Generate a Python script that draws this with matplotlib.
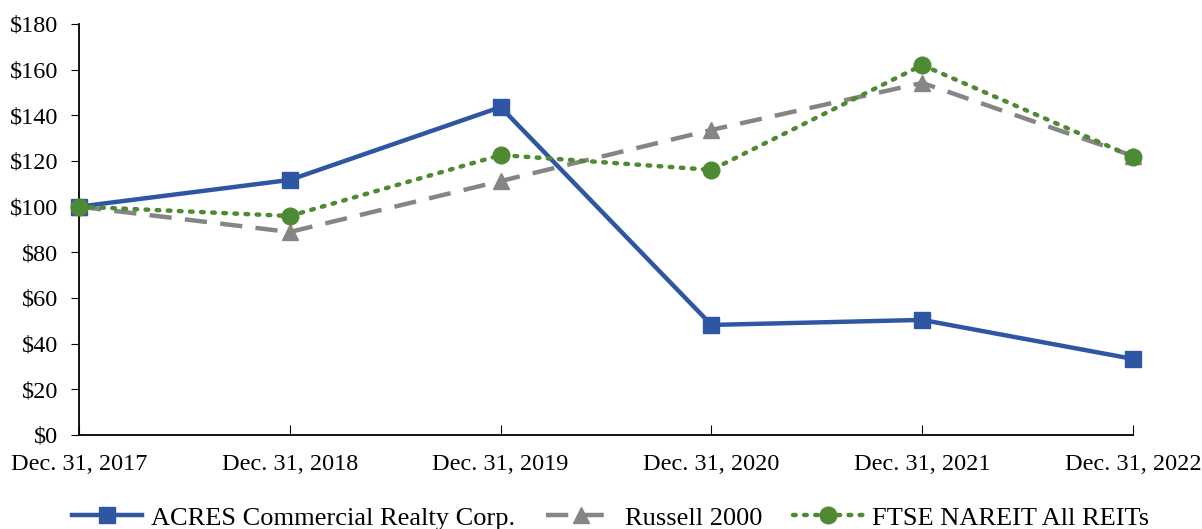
import matplotlib
matplotlib.use("Agg")
import matplotlib.pyplot as plt
from matplotlib.ticker import FuncFormatter

plt.rcParams['font.family'] = ['Liberation Serif', 'DejaVu Serif']

# === Datos ===
dates = ["Dec. 31, 2017", "Dec. 31, 2018", "Dec. 31, 2019",
         "Dec. 31, 2020", "Dec. 31, 2021", "Dec. 31, 2022"]
acres = [100, 111.7, 143.6, 48.2, 50.4, 33.3]
russell = [100, 88.9, 111.2, 133.6, 154.2, 122.2]
ftse = [100, 95.9, 122.6, 116.1, 162.0, 121.8]
y_ticks = [0, 20, 40, 60, 80, 100, 120, 140, 160, 180]

fig = plt.figure(figsize=(12.02, 5.29), dpi=100)
ax = fig.add_axes([0.0657, 0.1777, 0.877, 0.777])

x = list(range(len(dates)))
ax.plot(x, acres, color="#2E56A3", lw=3.2, marker="s", ms=12,
        label="ACRES Commercial Realty Corp.", zorder=3)
ax.plot(x, russell, color="#858585", lw=3.2, ls=(0, (5, 3)), marker="^", ms=11,
        label="Russell 2000", zorder=2)
ax.plot(x, ftse, color="#4E8A33", lw=3.2, ls=(0, (0.6, 1.9)), dash_capstyle="round",
        marker="o", ms=12, label="FTSE NAREIT All REITs", zorder=4)

ax.set_xlim(0, len(dates) - 1)
ax.set_ylim(0, 180)
ax.set_yticks(y_ticks)
ax.yaxis.set_major_formatter(FuncFormatter(lambda v, p: f"${v:.0f}"))
ax.set_xticks(x)
ax.set_xticklabels(dates)
ax.tick_params(axis="y", direction="out", length=6, labelsize=17.5, pad=9)
ax.tick_params(axis="x", direction="in", length=7, labelsize=17.5, pad=14)
for side in ("top", "right"):
    ax.spines[side].set_visible(False)
for side in ("left", "bottom"):
    ax.spines[side].set_linewidth(1.3)
    ax.spines[side].set_clip_on(False)
for ln in ax.lines:
    ln.set_clip_on(False)

fig.legend(loc="lower center", bbox_to_anchor=(0.508, -0.046), ncol=3, frameon=False,
           fontsize=19, handlelength=2.65, columnspacing=1.15, handletextpad=0.35)

fig.savefig("out.png", dpi=100)
